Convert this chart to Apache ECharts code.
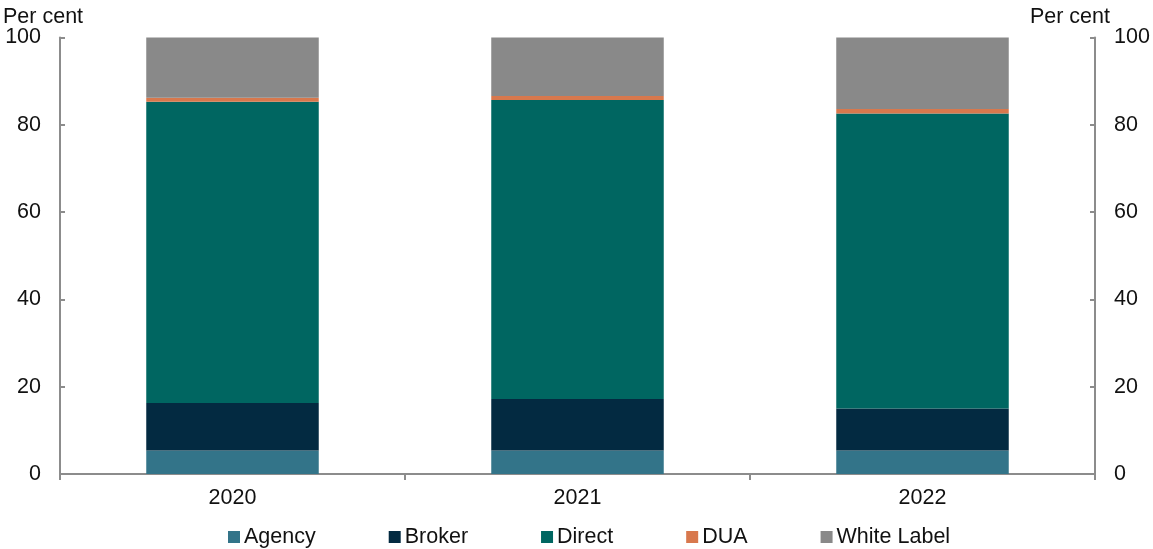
<!DOCTYPE html>
<html>
<head>
<meta charset="utf-8">
<script src="https://cdn.jsdelivr.net/npm/echarts@6/dist/echarts.min.js"></script>
<style>
  html, body { margin: 0; padding: 0; background: #fff; }
  #chart { width: 1153px; height: 549px; }
</style>
</head>
<body>
<div id="chart"></div>
<script>
// Share of policies by distribution channel, per cent
const years = ['2020', '2021', '2022'];
const agency = [5.4, 5.4, 5.4];
const broker = [10.85, 11.8, 9.6];
const direct = [69.05, 68.5, 67.6];
const dua = [0.9, 0.9, 1.0];
const whiteLabel = [13.8, 13.4, 16.4];
const yTicks = [0, 20, 40, 60, 80, 100];

const FONT = 'Liberation Sans, Arial, sans-serif';
const FONT_SIZE = 21.5;
const AXIS_COLOR = '#8c8c8c';
const TEXT_COLOR = '#111';

const seriesDefs = [
  { name: 'Agency', data: agency, color: '#337489' },
  { name: 'Broker', data: broker, color: '#032a41' },
  { name: 'Direct', data: direct, color: '#006661' },
  { name: 'DUA', data: dua, color: '#d8784d' },
  { name: 'White Label', data: whiteLabel, color: '#898989' }
];

const yAxisBase = {
  type: 'value',
  min: yTicks[0],
  max: yTicks[yTicks.length - 1],
  interval: yTicks[1] - yTicks[0],
  axisLine: { show: true, lineStyle: { color: AXIS_COLOR, width: 2 } },
  axisTick: { show: true, inside: true, length: 5, lineStyle: { color: AXIS_COLOR, width: 2 } },
  splitLine: { show: false },
  axisLabel: { color: TEXT_COLOR, fontFamily: FONT, fontSize: FONT_SIZE, margin: 19 }
};

const titleStyle = { fontFamily: FONT, fontSize: FONT_SIZE, fontWeight: 'normal', color: TEXT_COLOR };

const chart = echarts.init(document.getElementById('chart'), null, { renderer: 'canvas' });
chart.setOption({
  animation: false,
  textStyle: { fontFamily: FONT },
  grid: { left: 60, right: 58, top: 37.5, bottom: 75, containLabel: false },
  title: [
    { text: 'Per cent', left: 3, top: 6, padding: 0, textStyle: titleStyle },
    { text: 'Per cent', right: 43, top: 6, padding: 0, textStyle: titleStyle }
  ],
  legend: {
    left: 228,
    top: 526,
    padding: 0,
    itemWidth: 12,
    itemHeight: 12,
    itemGap: 73,
    icon: 'rect',
    textStyle: { fontFamily: FONT, fontSize: FONT_SIZE, color: TEXT_COLOR, padding: [0, 0, 0, -1] },
    data: seriesDefs.map(s => s.name)
  },
  xAxis: {
    type: 'category',
    data: years,
    axisLine: { show: true, lineStyle: { color: AXIS_COLOR, width: 2 } },
    axisTick: { show: true, length: 6, lineStyle: { color: AXIS_COLOR, width: 2 } },
    axisLabel: { color: TEXT_COLOR, fontFamily: FONT, fontSize: FONT_SIZE, margin: 13 }
  },
  yAxis: [
    Object.assign({ position: 'left' }, yAxisBase),
    Object.assign({ position: 'right' }, yAxisBase)
  ],
  series: seriesDefs.map(s => ({
    name: s.name,
    type: 'bar',
    stack: 'total',
    barWidth: '50%',
    data: s.data,
    itemStyle: { color: s.color }
  }))
});
</script>
</body>
</html>
